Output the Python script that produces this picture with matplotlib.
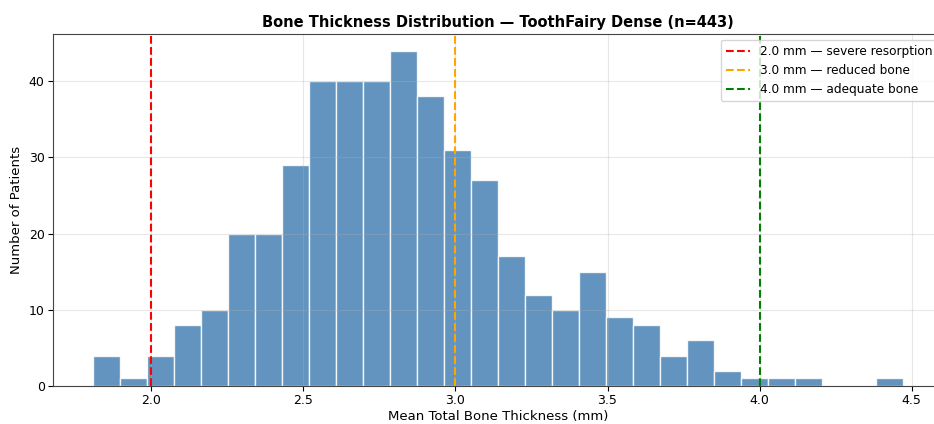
import matplotlib
matplotlib.use("Agg")
import matplotlib.pyplot as plt
import numpy as np

# histogram counts per bin (30 bins)
counts = [4, 1, 4, 8, 10, 20, 20, 29, 40, 40,
          40, 44, 38, 31, 27, 17, 12, 10, 15, 9,
          8, 4, 6, 2, 1, 1, 1, 0, 0, 1]
bin_min = 1.81
bin_max = 4.47
edges = np.linspace(bin_min, bin_max, len(counts) + 1)

thresholds = [2.0, 3.0, 4.0]
thr_labels = ["2.0 mm — severe resorption", "3.0 mm — reduced bone", "4.0 mm — adequate bone"]
thr_colors = ["red", "orange", "green"]

fig = plt.figure(figsize=(9.34, 4.24), dpi=100)
ax = fig.add_axes([53 / 934, 1 - 386 / 424, 890 / 934, 352 / 424])

ax.hist(edges[:-1], bins=edges, weights=counts, color="steelblue",
        edgecolor="white", alpha=0.85)

for t, lab, c in zip(thresholds, thr_labels, thr_colors):
    ax.axvline(t, color=c, linestyle="--", linewidth=1.5, label=lab)

ax.set_title("Bone Thickness Distribution — ToothFairy Dense (n=443)",
             fontsize=10.5, fontweight="bold", pad=5)
ax.set_xlabel("Mean Total Bone Thickness (mm)", fontsize=9.5, labelpad=2)
ax.set_ylabel("Number of Patients", fontsize=9.5)
ax.tick_params(labelsize=9, pad=2.5)
ax.grid(True, alpha=0.3)
for s in ax.spines.values():
    s.set_color("#444444")
ax.legend(fontsize=8.7, loc="upper right")

fig.savefig("out.png", dpi=100)
